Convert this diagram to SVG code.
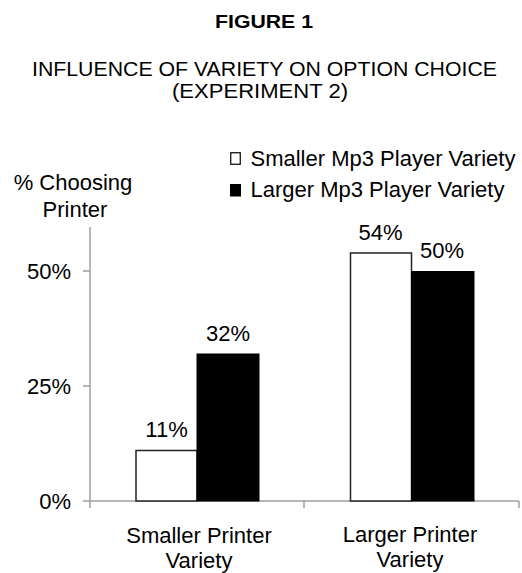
<svg xmlns="http://www.w3.org/2000/svg" width="522" height="573" viewBox="0 0 522 573">
<style>
text{font-family:"Liberation Sans",Arial,sans-serif;fill:#000}
.t{font-size:22px}
.axis{stroke:#a0a0a0;stroke-width:1.5;fill:none}
.wbar{fill:#fff;stroke:#222;stroke-width:1.5}
.bbar{fill:#000;stroke:#000;stroke-width:1}
</style>
<rect width="522" height="573" fill="#fff"/>
<g id="title">
<text x="264" y="28" font-size="18" font-weight="bold" text-anchor="middle" textLength="98" lengthAdjust="spacingAndGlyphs">FIGURE 1</text>
<text x="264.5" y="76" font-size="20" text-anchor="middle" textLength="465" lengthAdjust="spacingAndGlyphs">INFLUENCE OF VARIETY ON OPTION CHOICE</text>
<text x="260" y="98" font-size="20" text-anchor="middle" textLength="176" lengthAdjust="spacingAndGlyphs">(EXPERIMENT 2)</text>
</g>
<g id="legend">
<rect x="230.75" y="152.75" width="9.5" height="11.5" fill="#fff" stroke="#000" stroke-width="1.2"/>
<text class="t" x="250.5" y="166">Smaller Mp3 Player Variety</text>
<rect x="230" y="184" width="11" height="12.5" fill="#000"/>
<text class="t" x="250.5" y="197">Larger Mp3 Player Variety</text>
</g>
<g id="axes">
<text class="t" x="73" y="190" text-anchor="middle">% Choosing</text>
<text class="t" x="75" y="217" text-anchor="middle">Printer</text>
<path class="axis" d="M90 227V508M83 271H90M83 386H90M83 501H519M304 501V508M519 501V508"/>
<text class="t" x="71" y="279" text-anchor="end">50%</text>
<text class="t" x="71" y="394" text-anchor="end">25%</text>
<text class="t" x="71" y="509" text-anchor="end">0%</text>
</g>
<g id="group-smaller-printer">
<rect class="wbar" x="136" y="450.5" width="61" height="50.5"/>
<rect class="bbar" x="197" y="354" width="62" height="147"/>
<text class="t" x="166.5" y="437" text-anchor="middle">11%</text>
<text class="t" x="228" y="341" text-anchor="middle">32%</text>
<text class="t" x="199" y="543" text-anchor="middle">Smaller Printer</text>
<text class="t" x="199" y="568" text-anchor="middle">Variety</text>
</g>
<g id="group-larger-printer">
<rect class="wbar" x="350.5" y="253" width="61" height="248"/>
<rect class="bbar" x="411.5" y="271.5" width="62.5" height="229.5"/>
<text class="t" x="380.5" y="240" text-anchor="middle">54%</text>
<text class="t" x="442" y="258" text-anchor="middle">50%</text>
<text class="t" x="410" y="542" text-anchor="middle">Larger Printer</text>
<text class="t" x="410" y="567" text-anchor="middle">Variety</text>
</g>
</svg>
